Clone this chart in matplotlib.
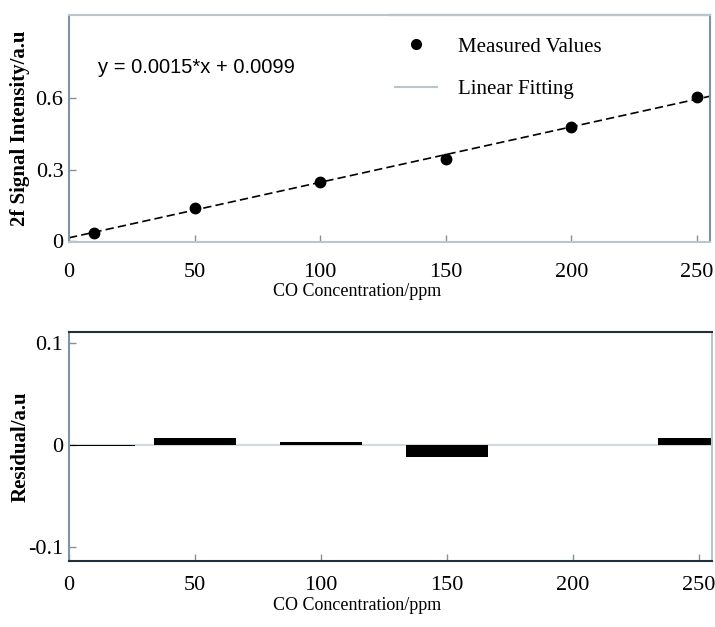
import numpy as np
import matplotlib
matplotlib.use("Agg")
import matplotlib.pyplot as plt

# CO calibration data
conc_ppm = [10, 50, 100, 150, 200, 250]
signal_au = [0.035, 0.14, 0.25, 0.345, 0.48, 0.605]
residual_au = [-0.001, 0.0072, 0.0036, -0.012, 0.0, 0.0072]
x_ticks = [0, 50, 100, 150, 200, 250]
top_yticks = [0, 0.3, 0.6]
top_yticklabels = ["0", "0.3", "0.6"]
res_yticks = [-0.1, 0, 0.1]
res_yticklabels = ["-0.1", "0", "0.1"]
fit_label = "y = 0.0015*x + 0.0099"

SERIF = "Liberation Serif"
SANS = "Liberation Sans"
LIGHT = "#b9c6d0"
MID = "#7f93a3"
DARK = "#22303c"

fig = plt.figure(figsize=(7.15, 6.27), dpi=100)
ax1 = fig.add_axes([0.0965, 0.614, 0.896, 0.362])
ax2 = fig.add_axes([0.0965, 0.105, 0.899, 0.365])

# --- calibration curve ---
x = np.array(conc_ppm, dtype=float)
y = np.array(signal_au)
slope, intercept = np.polyfit(x, y, 1)
xf = np.array([0, 255.0])
ax1.plot(xf, slope * xf + intercept, color="black", lw=1.2,
         dashes=(5, 2.5), zorder=2)
ax1.plot(x, y, "o", color="black", ms=7.5, zorder=3)

# legend entries
ax1.plot([], [], "o", color="black", ms=7, label="Measured Values")
ax1.plot([], [], "-", color=LIGHT, lw=1.5, label="Linear Fitting")
handles, labels = ax1.get_legend_handles_labels()
ax1.legend(handles[-2:], labels[-2:], loc="upper left",
           bbox_to_anchor=(0.48, 0.985), frameon=False,
           prop={"family": SERIF, "size": 15}, handlelength=2.0,
           handletextpad=1.0, labelspacing=1.1)

ax1.text(0.045, 0.77, fit_label, transform=ax1.transAxes,
         family=SANS, fontsize=14.5, va="center")

ax1.set_xlim(0, 255)
ax1.set_ylim(-0.004, 0.95)
ax1.set_yticks(top_yticks)
ax1.set_yticklabels(top_yticklabels)
ax1.set_ylabel("2f Signal Intensity/a.u", family=SERIF, fontsize=15,
               fontweight="bold")
ax1.yaxis.set_label_coords(-0.061, 0.5)
ax1.set_xlabel("CO Concentration/ppm", family=SERIF, fontsize=13)
ax1.xaxis.set_label_coords(0.449, -0.18)
for name, col in [("left", MID), ("bottom", LIGHT), ("top", LIGHT),
                  ("right", MID)]:
    ax1.spines[name].set_color(col)
    ax1.spines[name].set_linewidth(1.5)
ax1.plot([0.5, 1.0], [1.0, 1.0], transform=ax1.transAxes, color=DARK,
         lw=1.5, clip_on=False)

# --- residuals ---
ax2.axhline(0, color="#d3dbe1", lw=1.6, zorder=1)
ax2.bar(conc_ppm, residual_au, width=32.5, color="black", zorder=2)
ax2.set_xlim(0, 255)
ax2.set_ylim(-0.114, 0.111)
ax2.set_yticks(res_yticks)
ax2.set_yticklabels(res_yticklabels)
ax2.set_ylabel("Residual/a.u", family=SERIF, fontsize=15,
               fontweight="bold")
ax2.yaxis.set_label_coords(-0.06, 0.5)
ax2.set_xlabel("CO Concentration/ppm", family=SERIF, fontsize=13)
ax2.xaxis.set_label_coords(0.449, -0.157)
for name, col in [("left", MID), ("bottom", DARK), ("top", DARK),
                  ("right", LIGHT)]:
    ax2.spines[name].set_color(col)
    ax2.spines[name].set_linewidth(1.5)

for ax, xpad in ((ax1, 15), (ax2, 11)):
    ax.set_xticks(x_ticks)
    ax.tick_params(direction="in", length=5, width=1, color=MID,
                   labelsize=16)
    ax.tick_params(axis="x", pad=xpad)
    ax.tick_params(axis="y", pad=4)
    for lab in ax.get_xticklabels() + ax.get_yticklabels():
        lab.set_family(SERIF)

fig.savefig("out.png", dpi=100)
